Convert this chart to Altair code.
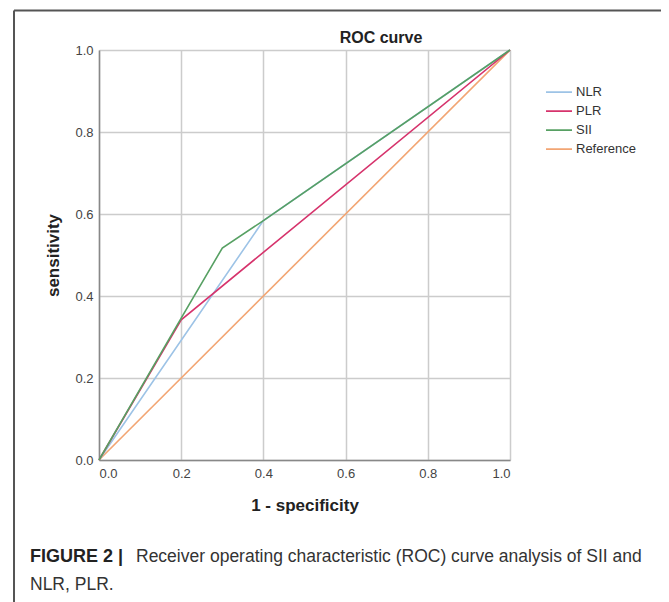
import altair as alt
import pandas as pd

# ROC points
series_order = ["NLR", "PLR", "SII", "Reference"]
colors = ["#9dc3e6", "#d6336c", "#57a063", "#f2a573"]

ref_x = [0.0, 1.0]
ref_y = [0.0, 1.0]
nlr_x = [0.0, 0.4, 1.0]
nlr_y = [0.0, 0.584, 1.0]
plr_x = [0.0, 0.2, 1.0]
plr_y = [0.0, 0.342, 1.0]
sii_x = [0.0, 0.2, 0.3, 0.4, 1.0]
sii_y = [0.0, 0.346, 0.517, 0.584, 1.0]

tick_vals = [0.0, 0.2, 0.4, 0.6, 0.8, 1.0]

rows = []
for name, xs, ys in [("Reference", ref_x, ref_y), ("NLR", nlr_x, nlr_y),
                     ("PLR", plr_x, plr_y), ("SII", sii_x, sii_y)]:
    for i, (a, b) in enumerate(zip(xs, ys)):
        rows.append({"series": name, "fpr": a, "tpr": b, "idx": i})
df = pd.DataFrame(rows)

FONT = "Liberation Sans"

lines = alt.Chart(df).mark_line(strokeWidth=1.6).encode(
    x=alt.X("fpr:Q", title="1 - specificity",
            scale=alt.Scale(domain=[0, 1], nice=False, zero=False),
            axis=alt.Axis(values=tick_vals, format=".1f", tickSize=0, labelPadding=7,
                          titlePadding=17, titleFontSize=17, titleFontWeight="bold",
                          titleColor="#222", labelFontSize=13, labelColor="#444",
                          gridColor="#cccccc", gridWidth=1.5, domainColor="#888888",
                          domainWidth=1.5, labelFont=FONT, titleFont=FONT)),
    y=alt.Y("tpr:Q", title="sensitivity",
            scale=alt.Scale(domain=[0, 1], nice=False, zero=False),
            axis=alt.Axis(values=tick_vals, format=".1f", tickSize=0, labelPadding=6,
                          titlePadding=12, titleFontSize=17, titleFontWeight="bold",
                          titleColor="#222", labelFontSize=13, labelColor="#444",
                          gridColor="#cccccc", gridWidth=1.5, domainColor="#888888",
                          domainWidth=1.5, labelFont=FONT, titleFont=FONT)),
    color=alt.Color("series:N", title=None,
                    scale=alt.Scale(domain=series_order, range=colors),
                    legend=alt.Legend(orient="none", legendX=446, legendY=33,
                                      symbolType="stroke", symbolSize=676,
                                      symbolStrokeWidth=1.6, labelFontSize=13,
                                      labelFont=FONT, labelColor="#333",
                                      labelOffset=3, rowPadding=0, clipHeight=18.3)),
    order="idx:Q",
)

frame = pd.DataFrame({"k": [0]})

title = alt.Chart(frame).mark_text(align="center", baseline="middle", font=FONT,
                                   fontSize=16, fontWeight="bold", color="#222").encode(
    x=alt.value(282), y=alt.value(-12), text=alt.value("ROC curve"))

# figure frame: a decorative border around the whole figure (open at the bottom)
frame_left, frame_right, frame_top, frame_bottom = -0.2068, 1.3747, 1.0963, -0.37
border = pd.DataFrame({
    "x1": [frame_left, frame_right, frame_left],
    "x2": [frame_left, frame_right, frame_right],
    "y1": [frame_top, frame_top, frame_top],
    "y2": [frame_bottom, frame_bottom, frame_top],
})
edges = alt.Chart(border).mark_rule(color="#555", strokeWidth=2).encode(
    x="x1:Q", x2="x2:Q", y="y1:Q", y2="y2:Q")

cap_bold = alt.Chart(frame).mark_text(align="left", baseline="middle", font=FONT,
                                      fontSize=18, fontWeight="bold", color="#222").encode(
    x=alt.value(-69), y=alt.value(507), text=alt.value("FIGURE 2 |"))
cap_line1 = alt.Chart(frame).mark_text(align="left", baseline="middle", font=FONT,
                                       fontSize=17.5, color="#333").encode(
    x=alt.value(37), y=alt.value(507),
    text=alt.value("Receiver operating characteristic (ROC) curve analysis of SII and"))
cap_line2 = alt.Chart(frame).mark_text(align="left", baseline="middle", font=FONT,
                                       fontSize=17.5, color="#333").encode(
    x=alt.value(-69), y=alt.value(535), text=alt.value("NLR, PLR."))

chart = alt.layer(lines, edges, title, cap_bold, cap_line1, cap_line2).properties(
    width=411, height=410,
    autosize=alt.AutoSizeParams(type="none"),
    padding={"left": 91, "top": 42, "right": 151, "bottom": 142},
).configure_view(stroke=None)

chart.save("out.html", embed_options={"renderer": "svg", "actions": False})
